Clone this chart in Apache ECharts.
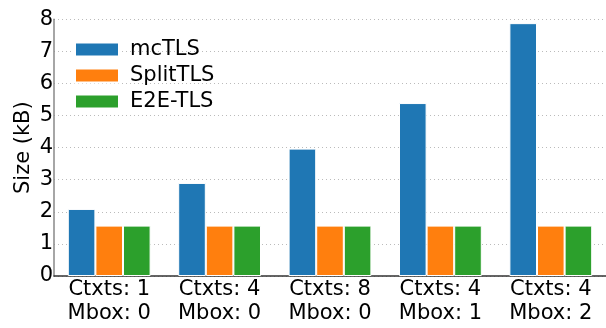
<!DOCTYPE html>
<html>
<head>
<meta charset="utf-8">
<script src="https://cdn.jsdelivr.net/npm/echarts@6/dist/echarts.min.js"></script>
<style>
html,body{margin:0;padding:0;background:#fff;}
#chart{width:606px;height:328px;}
</style>
</head>
<body>
<div id="chart"></div>
<script>
var categories = ['Ctxts: 1\nMbox: 0', 'Ctxts: 4\nMbox: 0', 'Ctxts: 8\nMbox: 0', 'Ctxts: 4\nMbox: 1', 'Ctxts: 4\nMbox: 2'];
var mcTLS = [2.09, 2.9, 3.97, 5.39, 7.88];
var splitTLS = [1.57, 1.57, 1.57, 1.57, 1.57];
var e2eTLS = [1.57, 1.57, 1.57, 1.57, 1.57];
var seriesNames = ['mcTLS', 'SplitTLS', 'E2E-TLS'];
var colors = ['#1f77b4', '#ff7f0e', '#2ca02c'];

var font = 'DejaVu Sans';
var chart = echarts.init(document.getElementById('chart'), null, {renderer: 'canvas'});
function mk(name, data, color) {
  return {
    name: name, type: 'bar', data: data,
    barGap: '0%', barCategoryGap: '25%',
    itemStyle: {color: color, borderColor: '#ffffff', borderWidth: 1},
    emphasis: {disabled: true}
  };
}
chart.setOption({
  animation: false,
  textStyle: {fontFamily: font},
  color: colors,
  grid: {left: 54, right: -3, top: 19.3, bottom: 52, containLabel: false},
  legend: {
    orient: 'vertical', left: 74, top: 39, padding: 0,
    itemWidth: 44, itemHeight: 14, itemGap: 5,
    icon: 'rect',
    textStyle: {fontFamily: font, fontSize: 21, color: '#000', padding: [0, 0, 0, 6]},
    data: seriesNames
  },
  xAxis: {
    type: 'category', data: categories,
    axisLine: {lineStyle: {color: '#333', width: 1.5}},
    axisTick: {show: false},
    axisLabel: {fontFamily: font, fontSize: 21, lineHeight: 24, color: '#000', margin: 2, interval: 0}
  },
  yAxis: {
    type: 'value', min: 0, max: 8, interval: 1,
    name: 'Size (kB)', nameLocation: 'middle', nameGap: 20, nameMoveOverlap: false,
    nameTextStyle: {fontFamily: font, fontSize: 21, color: '#000'},
    axisLine: {show: true, lineStyle: {color: '#888', width: 1.5}},
    axisTick: {show: false},
    axisLabel: {fontFamily: font, fontSize: 21, color: '#000', margin: 1},
    splitLine: {show: true, lineStyle: {color: '#bbb', type: [1, 3], width: 1}}
  },
  series: [mk(seriesNames[0], mcTLS, colors[0]), mk(seriesNames[1], splitTLS, colors[1]), mk(seriesNames[2], e2eTLS, colors[2])]
});
</script>
</body>
</html>
